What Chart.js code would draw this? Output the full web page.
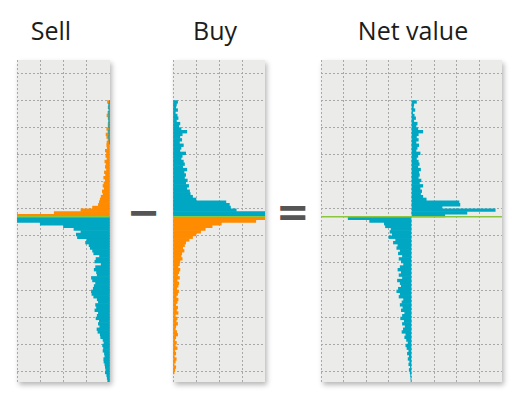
<!DOCTYPE html>
<html>
<head>
<meta charset="utf-8">
<script src="https://cdn.jsdelivr.net/npm/chart.js@4"></script>
<style>
  body {
    margin: 0;
    width: 512px;
    height: 396px;
    background: #fff;
    position: relative;
    overflow: hidden;
    font-family: 'Open Sans', sans-serif;
  }
  .title {
    position: absolute;
    top: 13px;
    font-size: 25px;
    color: #1c1c1c;
    transform: translateX(-50%);
    white-space: nowrap;
  }
  .panel {
    position: absolute;
    top: 60px;
    background: #ebecea;
    box-shadow: 2px 3px 5px rgba(0, 0, 0, 0.28);
  }
  .op {
    position: absolute;
    font-family: 'DejaVu Sans', sans-serif;
    font-weight: bold;
    font-size: 40px;
    line-height: 1;
    color: #555;
  }
</style>
</head>
<body>
<div class="title" style="left:51px">Sell</div>
<div class="title" style="left:215px">Buy</div>
<div class="title" style="left:413px">Net value</div>

<canvas id="sellChart" class="panel" width="93" height="322" style="left:17px"></canvas>
<span class="op" style="left:127px; top:192px">−</span>
<canvas id="buyChart" class="panel" width="92" height="322" style="left:173px"></canvas>
<span class="op" style="left:276px; top:192px">=</span>
<canvas id="netChart" class="panel" width="181" height="322" style="left:321px"></canvas>

<script>
// Price levels: rows 0-57 lie above the current price, rows 58-118 below it
const ZERO_ROW = 58;

// Sell side (values in grid columns)
const sellTealAbove = [
    0, 0, 0, 0, 0, 0, 0, 0, 0, 0, 0, 0, 0, 0, 0,
    0.03, 0.06, 0.06, 0.05, 0.06, 0.05, 0.06, 0.06, 0.05, 0.06, 0.04, 0.06, 0.05, 0.06, 0.04, 0.03,
    0, 0, 0, 0, 0, 0, 0, 0, 0, 0, 0, 0, 0, 0, 0, 0, 0, 0, 0, 0, 0, 0, 0, 0, 0, 0, 0
];
const sellOrangeAbove = [
    0, 0, 0, 0, 0, 0, 0, 0, 0, 0, 0, 0, 0, 0, 0,
    0.08, 0, 0.02, 0, 0.03, 0.08, 0.02, 0, 0.03, 0.02, 0.1, 0.03, 0.12, 0.08, 0.05, 0.1,
    0.14, 0.12, 0.2, 0.15, 0.18, 0.13, 0.22, 0.17, 0.2, 0.15, 0.24, 0.19, 0.27, 0.2, 0.26,
    0.3, 0.25, 0.33, 0.3, 0.38, 0.42, 0.46, 0.5, 0.75, 1.25, 2.4, 4.0
];
const sellTealBelow = [
    4.0, 4.0, 3.0, 2.0, 1.55, 1.25, 1.45, 1.4, 1.0, 1.05,
    0.9, 0.85, 0.75, 0.7, 0.45, 0.6, 0.65, 0.38, 0.62, 0.68,
    0.58, 0.55, 0.8, 0.75, 0.62, 0.68, 0.72, 0.8, 0.78, 0.7,
    0.55, 0.5, 0.62, 0.58, 0.65, 0.5, 0.55, 0.6, 0.46, 0.5,
    0.44, 0.56, 0.52, 0.42, 0.4, 0.3, 0.26, 0.32, 0.28, 0.3,
    0.24, 0.22, 0.27, 0.26, 0.22, 0.2, 0.18, 0.2, 0.14, 0.12, 0.1
];

// Buy side
const buyTealAbove = [
    0, 0, 0, 0, 0, 0, 0, 0, 0, 0, 0, 0, 0, 0, 0,
    0.2, 0.15, 0.12, 0.2, 0.1, 0.18, 0.22, 0.15, 0.3, 0.25,
    0.35, 0.6, 0.4, 0.3, 0.38, 0.28, 0.45, 0.35, 0.3, 0.55,
    0.4, 0.35, 0.45, 0.5, 0.42, 0.6, 0.48, 0.55, 0.5, 0.62,
    0.55, 0.68, 0.6, 0.72, 0.75, 0.85, 1.0, 2.3, 2.45, 2.5,
    2.75, 4.0, 4.0
];
const buyOrangeBelow = [
    4.0, 3.6, 2.1, 1.7, 1.4, 1.2, 1.0, 0.85, 0.7, 0.55,
    0.5, 0.42, 0.48, 0.38, 0.35, 0.4, 0.3, 0.28, 0.22, 0.3,
    0.25, 0.2, 0.28, 0.18, 0.25, 0.22, 0.16, 0.24, 0.2, 0.14,
    0.22, 0.18, 0.12, 0.2, 0.15, 0.22, 0.1, 0.18, 0.14, 0.2,
    0.12, 0.1, 0.16, 0.2, 0.12, 0.08, 0.15, 0.1, 0.18, 0.08,
    0.12, 0.06, 0.14, 0.1, 0.05, 0.12, 0.08, 0.05, 0, 0, 0
];

// Net value (buy minus sell)
const netAbove = [
    0, 0, 0, 0, 0, 0, 0, 0, 0, 0, 0, 0, 0, 0, 0,
    0.22, 0.1, 0.08, 0.15, 0.05, 0.12, 0.18, 0.1, 0.25, 0.2,
    0.28, 0.5, 0.3, 0.22, 0.3, 0.2, 0.32, 0.25, 0.2, 0.38,
    0.28, 0.22, 0.3, 0.34, 0.28, 0.4, 0.32, 0.35, 0.3, 0.42,
    0.35, 0.5, 0.38, 0.45, 0.4, 0.5, 0.65, 2.1, 2.14, 1.35,
    3.7, 2.45, 1.47
];
const netBelow = [
    -2.8, -1.85, -1.2, -1.15, -0.9, -0.95, -0.85, -1.0, -0.7, -0.8,
    -0.6, -0.65, -0.5, -0.58, -0.4, -0.55, -0.45, -0.35, -0.5, -0.6,
    -0.45, -0.55, -0.4, -0.62, -0.5, -0.45, -0.58, -0.65, -0.5, -0.55,
    -0.35, -0.42, -0.5, -0.38, -0.45, -0.3, -0.4, -0.48, -0.32, -0.4,
    -0.28, -0.36, -0.42, -0.25, -0.3, -0.22, -0.15, -0.25, -0.2, -0.12,
    -0.18, -0.1, -0.15, -0.08, -0.12, -0.05, -0.1, -0.06, -0.04, -0.03, -0.02
];

const TEAL = '#00a7c2';
const ORANGE = '#ff8b00';
const GREEN = '#8cc63f';
const GRID = '#a8a8a8';

const emptyAbove = new Array(sellTealAbove.length).fill(0);
const emptyBelow = new Array(sellTealBelow.length).fill(0);
const levels = Array.from({ length: emptyAbove.length + emptyBelow.length }, (_, i) => 'L' + i);

// zero-length bars would still leave a sliver, so use null instead
function series(above, below) {
    return above.concat(below).map(v => v || null);
}

function barSet(data, color) {
    return { data, backgroundColor: color, borderWidth: 0 };
}

function createPanel(canvasId, datasets, xMin, xMax, reverse) {
    const ctx = document.getElementById(canvasId).getContext('2d');

    return new Chart(ctx, {
        type: 'bar',
        data: { labels: levels, datasets },
        options: {
            indexAxis: 'y',
            responsive: false,
            animation: false,
            layout: { padding: 0 },
            plugins: { legend: { display: false }, tooltip: { enabled: false } },
            datasets: { bar: { barPercentage: 1, categoryPercentage: 1 } },
            scales: {
                x: {
                    type: 'linear',
                    min: xMin,
                    max: xMax,
                    reverse,
                    stacked: true,
                    ticks: { display: false, stepSize: 1 },
                    grid: { color: GRID, drawTicks: false },
                    border: { display: false, dash: [2, 2] }
                },
                y: {
                    stacked: true,
                    ticks: { display: false },
                    grid: {
                        drawTicks: false,
                        color: c => (c.index % 10 === 5 ? GRID : 'transparent')
                    },
                    border: { display: false, dash: [2, 2] }
                },
                // current price line, drawn over the bars
                zero: {
                    type: 'linear',
                    axis: 'y',
                    position: 'right',
                    reverse: true,
                    offset: false,
                    min: 0,
                    max: levels.length,
                    afterBuildTicks: s => { s.ticks = [{ value: ZERO_ROW }]; },
                    ticks: { display: false },
                    grid: { color: GREEN, lineWidth: 1.6, drawTicks: false, offset: false, z: 1 },
                    border: { display: false }
                }
            }
        }
    });
}

createPanel('sellChart', [
    barSet(series(sellTealAbove, sellTealBelow), TEAL),
    barSet(series(sellOrangeAbove, emptyBelow), ORANGE)
], 0, 4, true);

createPanel('buyChart', [
    barSet(series(buyTealAbove, emptyBelow), TEAL),
    barSet(series(emptyAbove, buyOrangeBelow), ORANGE)
], 0, 4, false);

createPanel('netChart', [
    barSet(series(netAbove, netBelow), TEAL)
], -4, 4, false);
</script>
</body>
</html>
